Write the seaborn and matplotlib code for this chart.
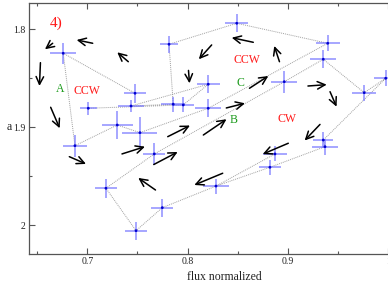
import matplotlib
matplotlib.use("Agg")
import matplotlib.pyplot as plt
import seaborn as sns
import pandas as pd
from matplotlib.ticker import MultipleLocator, FixedLocator, FixedFormatter

# ---- data ----
names = ["P1", "P2", "P3", "P4", "P5", "P6", "P7", "P8", "P9", "P10",
         "P11", "P12", "P13", "P14", "P15", "P16", "P17", "P18", "P19", "P19b",
         "P20", "P21", "P22", "P25", "P26", "P27", "P28"]
flux = [0.676, 0.7476, 0.701, 0.7436, 0.7857, 0.7957, 0.7815, 0.7299, 0.7525, 0.6877,
        0.849, 0.9397, 0.9353, 0.8206, 0.8964, 0.9761, 0.9975, 0.8206, 0.9353, 0.937,
        0.8871, 0.8821, 0.8283, 0.7668, 0.7186, 0.7486, 0.7748]
a_val = [1.8245, 1.8653, 1.8806, 1.8783, 1.8765, 1.8772, 1.8153, 1.8977, 1.9055, 1.9188,
         1.7939, 1.8143, 1.8306, 1.8561, 1.8535, 1.8647, 1.8500, 1.8806, 1.9130, 1.9198,
         1.9272, 1.9408, 1.9600, 1.9272, 1.9622, 2.0055, 1.9820]
flux_err = [0.0128, 0.0113, 0.0083, 0.0125, 0.0120, 0.0110, 0.0090, 0.0153, 0.0174, 0.0120,
            0.0117, 0.0120, 0.0130, 0.0117, 0.0130, 0.0117, 0.0120, 0.0130, 0.0100, 0.0125,
            0.0117, 0.0110, 0.0125, 0.0110, 0.0110, 0.0110, 0.0110]
a_err = [0.0109, 0.0097, 0.0068, 0.0061, 0.0077, 0.0077, 0.0088, 0.0141, 0.0163, 0.0112,
         0.0092, 0.0082, 0.0092, 0.0092, 0.0112, 0.0082, 0.0080, 0.0092, 0.0082, 0.0080,
         0.0077, 0.0077, 0.0077, 0.0112, 0.0097, 0.0092, 0.0092]

path_a = ["P2", "P1", "P10", "P8", "P9", "P18", "P12", "P11", "P7", "P5",
          "P4", "P14", "P6", "P3"]
path_b = ["P20", "P22", "P28", "P27", "P26", "P25", "P15", "P13", "P16", "P17",
          "P19", "P19b", "P21", "P22"]

arrow_x0 = [0.6655, 0.7054, 0.7409, 0.6533, 0.6635, 0.8009, 0.7802, 0.8240, 0.8655, 0.8916,
            0.8617, 0.9200, 0.9420, 0.8386, 0.8157, 0.9320, 0.7346, 0.7663, 0.6821, 0.7680,
            0.8350, 0.9004]
arrow_y0 = [1.8143, 1.8143, 1.8331, 1.8341, 1.8796, 1.8420, 1.9096, 1.8160, 1.8133, 1.8331,
            1.8602, 1.8579, 1.8637, 1.8803, 1.9079, 1.8971, 1.9272, 1.9380, 1.9300, 1.9640,
            1.9469, 1.9163]
arrow_x1 = [0.6578, 0.6894, 0.7299, 0.6523, 0.6725, 0.8019, 0.8024, 0.8112, 0.8440, 0.8864,
            0.8805, 0.9387, 0.9485, 0.8572, 0.8388, 0.9167, 0.7575, 0.7901, 0.6987, 0.7508,
            0.8067, 0.8749]
arrow_y1 = [1.8204, 1.8109, 1.8235, 1.8579, 1.9010, 1.8551, 1.8982, 1.8306, 1.8086, 1.8170,
            1.8477, 1.8565, 1.8790, 1.8755, 1.8918, 1.9135, 1.9198, 1.9252, 1.9374, 1.9517,
            1.9589, 1.9274]

label_texts = ["4)", "A", "CCW", "CCW", "C", "B", "CW"]
label_x = [0.6694, 0.6728, 0.6994, 0.8589, 0.8529, 0.8456, 0.8988]
label_y = [1.7939, 1.8612, 1.8627, 1.8313, 1.8545, 1.8926, 1.8915]
label_colors = ["#ff1a1a", "#1a9a1a", "#ff1a1a", "#ff1a1a", "#1a9a1a", "#1a9a1a", "#ff1a1a"]
label_sizes = [11, 8.5, 8.5, 8.5, 8.5, 8.5, 8.5]

x_ticks = [0.7, 0.8, 0.9, 1.0]
x_tick_labels = ["0.7", "0.8", "0.9", "1"]
y_ticks = [1.8, 1.9, 2.0]
y_tick_labels = ["1.8", "1.9", "2"]

# ---- plotting ----
sns.set_style("ticks")
plt.rcParams["font.family"] = ["Liberation Serif", "DejaVu Serif"]

df = pd.DataFrame({"name": names, "flux": flux, "a": a_val,
                   "flux_err": flux_err, "a_err": a_err}).set_index("name")

fig = plt.figure(figsize=(3.88, 3.0), dpi=100)
ax = fig.add_axes([28.7 / 388, 1 - 254 / 300, (420 - 28.7) / 388, (254 - 2.7) / 300])

for path in (path_a, path_b):
    seg = df.loc[path].reset_index()
    sns.lineplot(data=seg, x="flux", y="a", sort=False, estimator=None, ax=ax,
                 color="#a0a0a0", lw=0.7, linestyle=(0, (1, 1)), zorder=1)

ax.errorbar(df["flux"], df["a"], xerr=df["flux_err"], yerr=df["a_err"],
            fmt="none", ecolor="#7a7aff", elinewidth=1.1, alpha=0.85, capsize=0, zorder=2)
sns.scatterplot(data=df.reset_index(), x="flux", y="a", ax=ax, color="#0000d0",
                s=4, marker="o", edgecolor="none", zorder=3)

for x0, y0, x1, y1 in zip(arrow_x0, arrow_y0, arrow_x1, arrow_y1):
    ax.annotate("", xy=(x1, y1), xytext=(x0, y0),
                arrowprops=dict(arrowstyle="->,head_length=0.55,head_width=0.27",
                                color="black", lw=1.1, shrinkA=0, shrinkB=0,
                                mutation_scale=10), zorder=4)

for t, x, y, c, s in zip(label_texts, label_x, label_y, label_colors, label_sizes):
    ax.text(x, y, t, color=c, fontsize=s, ha="center", va="center", zorder=5)

ax.set_xlim(0.6416, 1.0317)
ax.set_ylim(2.0293, 1.7729)

ax.xaxis.set_major_locator(FixedLocator(x_ticks))
ax.xaxis.set_major_formatter(FixedFormatter(x_tick_labels))
ax.yaxis.set_major_locator(FixedLocator(y_ticks))
ax.yaxis.set_major_formatter(FixedFormatter(y_tick_labels))
ax.xaxis.set_minor_locator(MultipleLocator(0.05))
ax.yaxis.set_minor_locator(MultipleLocator(0.05))

ax.tick_params(which="both", direction="in", top=True, right=True,
               colors="#555555", labelcolor="#222222", width=0.8)
ax.tick_params(which="major", length=4, labelsize=7, pad=2.5)
ax.tick_params(which="minor", length=2.2)
for sp in ax.spines.values():
    sp.set_color("#555555")
    sp.set_linewidth(0.9)

ax.set_xlabel("flux normalized", fontsize=8.5, color="#222222")
ax.set_ylabel("a", fontsize=8.5, rotation=0, color="#222222", va="center", ha="center")
ax.xaxis.set_label_coords(0.5, -0.068)
ax.yaxis.set_label_coords(-0.0496, 0.504)

fig.savefig("out.png", dpi=100)
